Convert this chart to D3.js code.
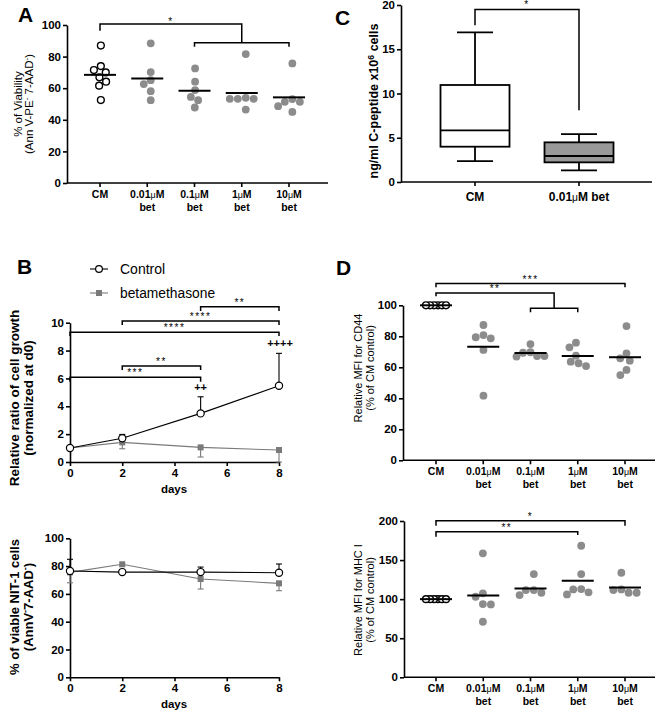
<!DOCTYPE html>
<html><head><meta charset="utf-8">
<script src="https://cdn.jsdelivr.net/npm/d3@7"></script>
<style>body{margin:0;background:#fff} text{font-family:"Liberation Sans",Arial,sans-serif}</style>
</head><body><svg id="c" width="657" height="717"></svg>
<script>
// ---------------- DATA ----------------
const doseCats = ["CM","0.01μM","0.1μM","1μM","10μM"];
const doseSub = ["","bet","bet","bet","bet"];
const viabilityA = [
  [87,74,70,71.5,66.9,64.1,61.6,52.5],
  [88.4,70.2,65.1,62.6,58.1,52.4],
  [72.5,64.1,58.8,54.5,52.4,47.8],
  [81.6,53.9,53.3,53.3,53.3,46.5],
  [75.7,53.1,51.4,51.4,48.6,45.0]
];
const cd44D = [
  [100,100,100,100,100,100],
  [87.3,80.8,78.7,79.4,71.2,41.7],
  [75,69.4,67.3,66.9,67.3,69.7],
  [75.9,72.9,67.5,63.6,60.8,62.6],
  [86.6,69,65.8,64.3,58.3,55]
];
const mhcD = [
  [100,100,100,100,100,100],
  [158.6,107.4,103.1,93.7,93.3,71.1],
  [132.1,111.6,105.2,108.2,111.6],
  [168.3,132.1,112.5,106.1,108.7,112.9],
  [133.8,111.6,108.2,108.2,112.5]
];
const cpepCats = ["CM","0.01μM bet"];
const cpepMin = [2.37,1.32];
const cpepQ1 = [3.99,2.22];
const cpepMed = [5.84,2.94];
const cpepQ3 = [10.96,4.48];
const cpepMax = [16.9,5.42];
const days = [0,2,5,8];
const growthControl = [1.0,1.7,3.49,5.47];
const growthControlErr = [0,0.28,1.19,2.33];
const growthBet = [1.0,1.41,1.05,0.86];
const growthBetErr = [0,0.46,0.69,0.86];
const viableControl = [76.5,75.7,75.7,75.2];
const viableControlErr = [8.4,1.2,3.6,6.3];
const viableBet = [75.5,81.3,70.7,67.6];
const viableBetErr = [7.5,1.2,7.2,5.3];
const seriesNames = ["Control","betamethasone"];

// ---------------- HELPERS ----------------
const svg = d3.select("#c");
const GRAY = "#8c8c8c", DGRAY = "#7a7a7a";
const FONT = "'Liberation Sans', Arial, sans-serif";

function styleAxis(g, fs){
  g.select(".domain").attr("stroke","#000").attr("stroke-width",1.6);
  g.selectAll(".tick line").attr("stroke","#000").attr("stroke-width",1.6);
  g.selectAll(".tick text").attr("fill","#000").style("font-family",FONT)
    .style("font-weight","bold").style("font-size",(fs||11.5)+"px");
}
function yAxis(y, x, ticks){
  const g = svg.append("g").attr("transform",`translate(${x},0)`)
    .call(d3.axisLeft(y).tickValues(ticks).tickSize(4).tickSizeOuter(0).tickPadding(2));
  styleAxis(g);
  return g;
}
function hline(x0,x1,y,w,c){
  svg.append("line").attr("x1",x0).attr("x2",x1).attr("y1",y).attr("y2",y)
    .attr("stroke",c||"#000").attr("stroke-width",w||1.6);
}
function vline(x,y0,y1,w,c){
  svg.append("line").attr("x1",x).attr("x2",x).attr("y1",y0).attr("y2",y1)
    .attr("stroke",c||"#000").attr("stroke-width",w||1.6);
}
function txt(x,y,s,opt){
  opt=opt||{};
  return svg.append("text").attr("x",x).attr("y",y).text(s)
    .attr("text-anchor",opt.anchor||"middle")
    .style("font-size",(opt.size||11)+"px").style("font-weight",opt.bold?"bold":"normal")
    .style("letter-spacing",(opt.ls||0)+"px")
    .attr("fill","#000");
}
function catLabel(x,y,s,size){
  const t = svg.append("text").attr("x",x).attr("y",y).attr("text-anchor","middle")
    .style("font-size",size+"px").style("font-weight","bold").attr("fill","#000");
  s.split(/(μ)/).forEach(p=>{ if(!p) return;
    const ts=t.append("tspan").text(p);
    if(p==="μ") ts.style("font-weight","normal").style("font-size",(size*0.85)+"px");
  });
  return t;
}
function rotLabel(x,cy,lines,opt){
  lines.forEach((parts,i)=>{
    const t = svg.append("text").attr("transform",`translate(${x[i]},${cy}) rotate(-90)`)
      .attr("text-anchor","middle").style("font-size",opt.size+"px")
      .style("font-weight",opt.bold?"bold":"normal").attr("fill","#000");
    let sup=false;
    parts.forEach(([s,isSup])=>{
      const ts = t.append("tspan").text(s);
      if(isSup && !sup){ ts.attr("dy",-opt.size*0.35).style("font-size",(opt.size*0.7)+"px"); sup=true; }
      else if(isSup && sup){ ts.style("font-size",(opt.size*0.7)+"px"); }
      else if(!isSup && sup){ ts.attr("dy",opt.size*0.35); sup=false; }
    });
  });
}
function swarm(vals, y, r, maxHalf){
  const d = 2*r+0.6;
  const pts = vals.map(v=>({v, y:y(v), x:0}));
  const placed=[];
  pts.slice().sort((a,b)=>b.v-a.v).forEach(p=>{
    const c=[0];
    placed.forEach(q=>{const dy=p.y-q.y; if(Math.abs(dy)<d){const dx=Math.sqrt(d*d-dy*dy); c.push(q.x+dx,q.x-dx);}});
    c.sort((a,b)=>Math.abs(a)-Math.abs(b)||a-b);
    for(const cx of c){ if(placed.every(q=>(cx-q.x)**2+(p.y-q.y)**2>=d*d-1e-6)){p.x=cx;break;} }
    placed.push(p);
  });
  const mn=d3.min(pts,p=>p.x), mx=d3.max(pts,p=>p.x), mid=(mn+mx)/2;
  pts.forEach(p=>p.x-=mid);
  const m=d3.max(pts,p=>Math.abs(p.x));
  if(m>maxHalf) pts.forEach(p=>p.x*=maxHalf/m);
  return pts;
}
function bracket(x0,x1,yTop,yL,yR,label,starY){
  svg.append("path").attr("d",`M${x0},${yL}V${yTop}H${x1}V${yR}`).attr("fill","none")
    .attr("stroke","#000").attr("stroke-width",1.5);
  if(label) txt((x0+x1)/2, starY!==undefined?starY:yTop+1, label, {size:10, ls:1.5});
}
function dotPanel(o){
  const x = d3.scalePoint().domain(doseCats).range(o.xr);
  const y = d3.scaleLinear().domain(o.yd).range(o.yr);
  yAxis(y, o.ax, o.ticks);
  hline(o.ax, o.xEnd, o.yr[0]);
  doseCats.forEach(c=>vline(x(c), o.yr[0], o.yr[0]+4));
  doseCats.forEach((c,i)=>{
    catLabel(x(c), o.yr[0]+o.l1, c, 10.5);
    if(doseSub[i]) txt(x(c), o.yr[0]+o.l1+13, doseSub[i], {bold:true,size:10.5});
  });
  o.data.forEach((vals,i)=>{
    const open = i===0;
    const pts = swarm(vals, y, 3.7, open && o.cmTight ? o.cmTight : 14);
    svg.append("g").selectAll("circle").data(pts).join("circle")
      .attr("cx",p=>x(doseCats[i])+p.x).attr("cy",p=>p.y).attr("r",open?3.4:3.9)
      .attr("fill",open?"#fff":GRAY).attr("stroke",open?"#000":"none").attr("stroke-width",1.4);
    const m = d3.mean(vals);
    hline(x(doseCats[i])-16, x(doseCats[i])+16, y(m), 2);
  });
  return {x,y};
}

// ---------------- PANEL A ----------------
(function(){
  const {x,y} = dotPanel({xr:[100,289], yd:[0,100], yr:[183,25], ax:67, xEnd:328,
    ticks:[0,20,40,60,80,100], data:viabilityA, l1:15});
  const mid = x("1μM");
  bracket(x("CM"), mid, y(100.6), y(96.4), y(88.8), "*", y(100.6)+1);
  bracket(x("0.1μM"), x("10μM"), y(88.8), y(86.3), y(86.3));
  rotLabel([22,33], 104, [[["% of Viability"]], [["(Ann V-PE"],["-",true],[" 7-AAD"],["-",true],[")"]]], {size:11.5});
  txt(18,22,"A",{anchor:"start",bold:true,size:21});
})();

// ---------------- PANEL C ----------------
(function(){
  const x = d3.scalePoint().domain(cpepCats).range([475,579]);
  const y = d3.scaleLinear().domain([0,20]).range([182,5]);
  yAxis(y, 401, [0,5,10,15,20]);
  hline(401, 652, 182);
  cpepCats.forEach(c=>vline(x(c),182,186));
  cpepCats.forEach(c=>catLabel(x(c),201,c,12));
  cpepCats.forEach((c,i)=>{
    const cx=x(c), hw=34.5, cw=18;
    vline(cx, y(cpepMax[i]), y(cpepQ3[i]), 1.8);
    vline(cx, y(cpepQ1[i]), y(cpepMin[i]), 1.8);
    hline(cx-cw, cx+cw, y(cpepMax[i]), 1.8);
    hline(cx-cw, cx+cw, y(cpepMin[i]), 1.8);
    svg.append("rect").attr("x",cx-hw).attr("width",2*hw).attr("y",y(cpepQ3[i]))
      .attr("height",y(cpepQ1[i])-y(cpepQ3[i])).attr("fill",i===0?"#fff":"#999")
      .attr("stroke","#000").attr("stroke-width",1.8);
    hline(cx-hw, cx+hw, y(cpepMed[i]), 1.8);
  });
  bracket(x("CM"), x("0.01μM bet"), y(19.5), y(17.7), y(8.1), "*", y(19.5)-1);
  rotLabel([378], 101, [[["ng/ml C-peptide x10"],["6",true],[" cells"]]], {size:12.5,bold:true});
  txt(335,25,"C",{anchor:"start",bold:true,size:21});
})();

// ---------------- PANEL B ----------------
function linePanel(o){
  const x = d3.scaleLinear().domain([0,8]).range([70,279]);
  const y = d3.scaleLinear().domain(o.yd).range(o.yr);
  yAxis(y, 70, o.ticks);
  const gx = svg.append("g").attr("transform",`translate(0,${o.yr[0]})`)
    .call(d3.axisBottom(x).tickValues([0,2,4,6,8]).tickSize(4).tickSizeOuter(0).tickPadding(3));
  styleAxis(gx);
  txt(174, o.yr[0]+31, "days", {bold:true,size:11.5});
  const line = d3.line().x((d,i)=>x(days[i])).y(d=>y(d));
  svg.append("path").attr("d",line(o.bet)).attr("fill","none").attr("stroke",DGRAY).attr("stroke-width",1.1);
  svg.append("path").attr("d",line(o.ctl)).attr("fill","none").attr("stroke","#000").attr("stroke-width",1.1);
  o.bet.forEach((v,i)=>{ if(o.betErr[i]>0){
    vline(x(days[i]), y(v), y(v-o.betErr[i]), 1.1, DGRAY);
    hline(x(days[i])-3, x(days[i])+3, y(v-o.betErr[i]), 1.1, DGRAY);}});
  o.ctl.forEach((v,i)=>{ if(o.ctlErr[i]>0){
    vline(x(days[i]), y(v), y(v+o.ctlErr[i]), 1.1, "#000");
    hline(x(days[i])-3, x(days[i])+3, y(v+o.ctlErr[i]), 1.1, "#000");}});
  svg.append("g").selectAll("rect").data(o.bet).join("rect")
    .attr("x",(d,i)=>x(days[i])-3).attr("y",d=>y(d)-3).attr("width",6).attr("height",6).attr("fill",DGRAY);
  svg.append("g").selectAll("circle").data(o.ctl).join("circle")
    .attr("cx",(d,i)=>x(days[i])).attr("cy",d=>y(d)).attr("r",3.6)
    .attr("fill","#fff").attr("stroke","#000").attr("stroke-width",1.2);
  return {x,y};
}
(function(){
  const {x,y} = linePanel({yd:[0,10], yr:[462,322.7], ticks:[0,2,4,6,8,10],
    ctl:growthControl, ctlErr:growthControlErr, bet:growthBet, betErr:growthBetErr});
  bracket(x(5), x(8), y(11.15), y(10.84), y(10.84), "**", y(11.15)-1);
  bracket(x(2), x(8), y(10.12), y(9.83), y(9.83), "****", y(10.12)-1);
  bracket(x(0), x(8), y(9.31), y(9.05), y(9.05), "****", y(9.31)-1);
  bracket(x(2), x(5), y(6.89), y(6.6), y(6.6), "**", y(6.89)-1);
  bracket(x(0), x(5), y(6.08), y(5.76), y(5.76), "***", y(6.08)-1);
  txt(x(8)+1, y(8.56)+4, "++++", {bold:true,size:11});
  txt(x(5), y(5.36)+4, "++", {bold:true,size:11});
  hline(90,108,269,1.1,"#000");
  svg.append("circle").attr("cx",99).attr("cy",269).attr("r",3.4).attr("fill","#fff").attr("stroke","#000").attr("stroke-width",1.2);
  hline(90,108,293,1.1,DGRAY);
  svg.append("rect").attr("x",96).attr("y",290).attr("width",6).attr("height",6).attr("fill",DGRAY);
  txt(120,274,seriesNames[0],{anchor:"start",size:14});
  txt(120,298,seriesNames[1],{anchor:"start",size:13.8});
  rotLabel([19,33], 398, [[["Relative ratio of cell growth"]],[["(normalized at d0)"]]], {size:13.5,bold:true});
  txt(17,274,"B",{anchor:"start",bold:true,size:21});
})();
(function(){
  linePanel({yd:[0,100], yr:[677.3,538.3], ticks:[0,20,40,60,80,100],
    ctl:viableControl, ctlErr:viableControlErr, bet:viableBet, betErr:viableBetErr});
  rotLabel([19,33], 607, [[["% of viable NIT-1 cells"]],[["(AnnV"],["-",true],["7-AAD"],["-",true],[")"]]], {size:13,bold:true});
})();

// ---------------- PANEL D ----------------
(function(){
  const {x,y} = dotPanel({xr:[436,625], yd:[0,100], yr:[460.3,305.3], ax:403, xEnd:655,
    ticks:[0,20,40,60,80,100], data:cd44D, l1:15, cmTight:10});
  const mid = (x("0.1μM")+x("1μM"))/2;
  bracket(x("CM"), x("10μM"), y(114), y(111.6), y(111.6), "***", y(114)-1);
  bracket(x("CM"), mid, y(108), y(105.9), y(98.1), "**", y(108)-1);
  bracket(x("0.1μM"), x("1μM"), y(98.1), y(95.5), y(95.5));
  rotLabel([362,374], 368, [[["Relative MFI for CD44"]],[["(% of CM control)"]]], {size:11});
  txt(336,275,"D",{anchor:"start",bold:true,size:21});
})();
(function(){
  const {x,y} = dotPanel({xr:[436,625], yd:[0,200], yr:[677.3,521], ax:404, xEnd:655,
    ticks:[0,50,100,150,200], data:mhcD, l1:15, cmTight:10});
  bracket(x("CM"), x("10μM"), y(200.4), y(194), y(194), "*", y(200.4)-1);
  bracket(x("CM"), x("1μM"), y(186.3), y(180), y(182), "**", y(186.3)-1);
  rotLabel([362,374], 600, [[["Relative MFI for MHC I"]],[["(% of CM control)"]]], {size:11});
})();
</script></body></html>
